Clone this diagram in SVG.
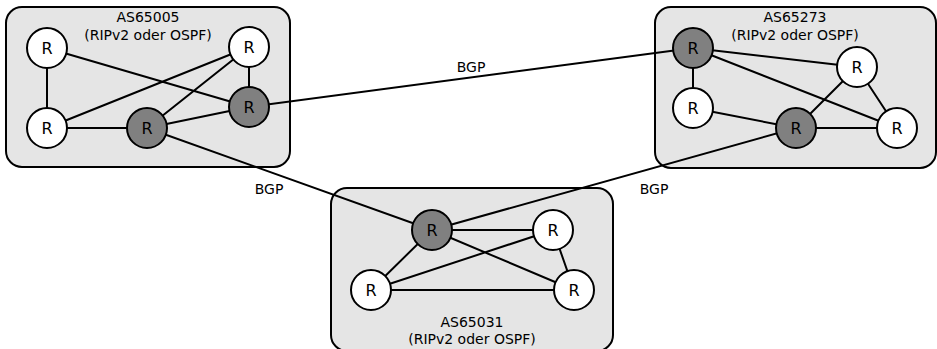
<svg xmlns="http://www.w3.org/2000/svg" width="937" height="349" viewBox="0 0 937 349">
<style>
.as{fill:#e5e5e5;stroke:#000;stroke-width:2}
.r{fill:#fff;stroke:#000;stroke-width:2}
.d{fill:#808080;stroke:#000;stroke-width:2}
.e{stroke:#000;stroke-width:2;fill:none}
text{font-family:"DejaVu Sans",sans-serif;font-size:14px;text-anchor:middle;fill:#000}
.n{font-size:16px}
</style>
<rect width="937" height="349" fill="#fff"/>
<g id="as65005">
<rect class="as" x="6" y="7" width="284" height="160" rx="16"/>
<text x="148" y="22">AS65005</text>
<text x="148" y="40">(RIPv2 oder OSPF)</text>
</g>
<g id="as65273">
<rect class="as" x="655" y="7" width="281" height="161" rx="16"/>
<text x="795" y="22">AS65273</text>
<text x="795" y="40">(RIPv2 oder OSPF)</text>
</g>
<g id="as65031">
<rect class="as" x="331" y="188" width="282" height="163" rx="16"/>
<text x="472" y="327">AS65031</text>
<text x="472" y="344">(RIPv2 oder OSPF)</text>
</g>
<g id="connectors">
<path class="e" d="M47,48L47,128M47,48L249,107M249,47L249,107M249,47L47,128M249,47L147,128M47,128L147,128M147,128L249,107"/>
<path class="e" d="M693,48L857,67M693,48L897,128M693,48L693,108M693,108L796,128M796,128L857,67M796,128L897,128M857,67L897,128"/>
<path class="e" d="M432,230L553,230M432,230L371,290M432,230L574,290M553,230L371,290M553,230L574,290M371,290L574,290"/>
<path class="e" d="M249,107L693,48M147,128L432,230M796,128L432,230"/>
<text x="471" y="72">BGP</text>
<text x="269" y="194">BGP</text>
<text x="654" y="194">BGP</text>
</g>
<g id="a1"><circle class="r" cx="47" cy="48" r="20"/><text class="n" x="47" y="54">R</text></g>
<g id="a2"><circle class="r" cx="249" cy="47" r="20"/><text class="n" x="249" y="53">R</text></g>
<g id="a3"><circle class="d" cx="249" cy="107" r="20"/><text class="n" x="249" y="113">R</text></g>
<g id="a4"><circle class="r" cx="47" cy="128" r="20"/><text class="n" x="47" y="134">R</text></g>
<g id="a5"><circle class="d" cx="147" cy="128" r="20"/><text class="n" x="147" y="134">R</text></g>
<g id="b1"><circle class="d" cx="693" cy="48" r="20"/><text class="n" x="693" y="54">R</text></g>
<g id="b2"><circle class="r" cx="857" cy="67" r="20"/><text class="n" x="857" y="73">R</text></g>
<g id="b3"><circle class="r" cx="693" cy="108" r="20"/><text class="n" x="693" y="114">R</text></g>
<g id="b4"><circle class="d" cx="796" cy="128" r="20"/><text class="n" x="796" y="134">R</text></g>
<g id="b5"><circle class="r" cx="897" cy="128" r="20"/><text class="n" x="897" y="134">R</text></g>
<g id="c1"><circle class="d" cx="432" cy="230" r="20"/><text class="n" x="432" y="236">R</text></g>
<g id="c2"><circle class="r" cx="553" cy="230" r="20"/><text class="n" x="553" y="236">R</text></g>
<g id="c3"><circle class="r" cx="371" cy="290" r="20"/><text class="n" x="371" y="296">R</text></g>
<g id="c4"><circle class="r" cx="574" cy="290" r="20"/><text class="n" x="574" y="296">R</text></g>
</svg>
